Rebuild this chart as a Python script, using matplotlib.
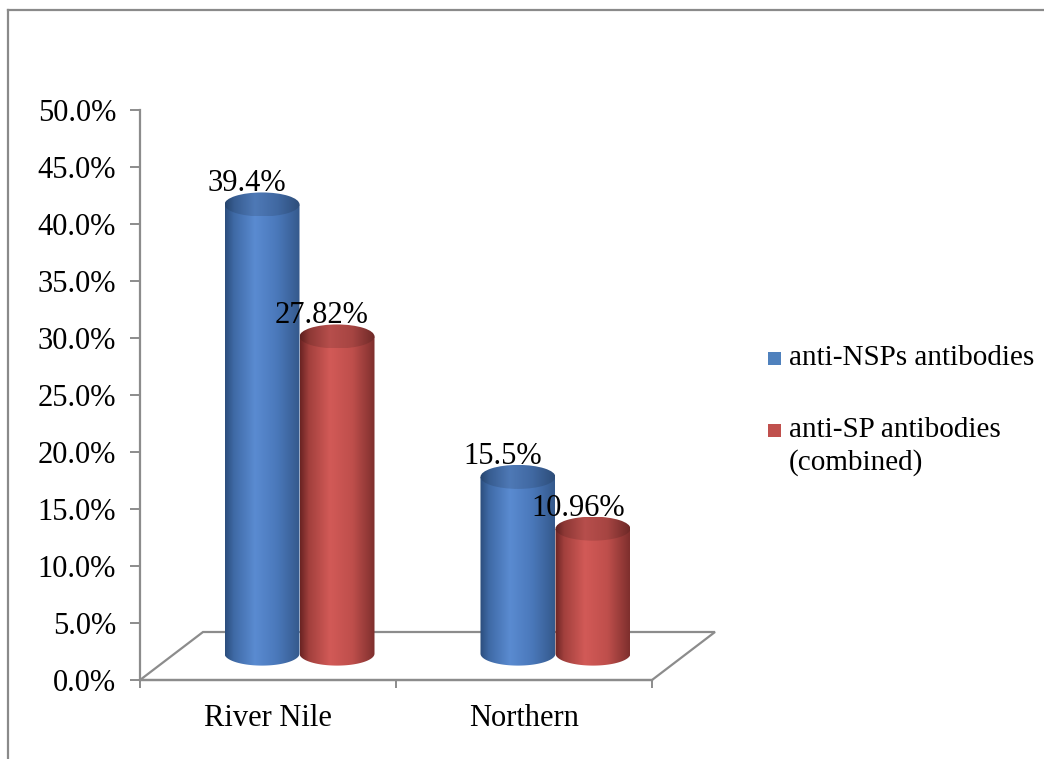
import numpy as np
import matplotlib
matplotlib.use("Agg")
import matplotlib.pyplot as plt
from matplotlib.patches import Ellipse, Polygon, Rectangle, PathPatch
from matplotlib.path import Path
from matplotlib.colors import LinearSegmentedColormap
from matplotlib.lines import Line2D

# ---- data ----
categories = ["River Nile", "Northern"]
series_names = ["anti-NSPs antibodies", "anti-SP antibodies\n(combined)"]
nsp_values = [39.4, 15.5]
sp_values = [27.82, 10.96]
nsp_labels = ["39.4%", "15.5%"]
sp_labels = ["27.82%", "10.96%"]
y_ticks = [0, 5, 10, 15, 20, 25, 30, 35, 40, 45, 50]

plt.rcParams['font.family'] = ['Liberation Serif', 'DejaVu Serif']
FS = 22
LEG_FS = 21
GRAY = '#8c8c8c'

W_PX, H_PX = 1044, 759
fig = plt.figure(figsize=(W_PX / 100, H_PX / 100), dpi=100)
fig.patch.set_facecolor('white')

# axes placement (pixels)
L, R, B, T = 140, 652, 680, 110
ax = fig.add_axes([L / W_PX, (H_PX - B) / H_PX, (R - L) / W_PX, (B - T) / H_PX])
ax.set_facecolor('none')

px_x = (R - L) / 2.0      # pixels per x-unit
px_y = (B - T) / 50.0     # pixels per percent

DX = 63 / px_x            # depth offset in x units
DY = 48 / px_y            # depth offset in y units
BW = 75 / px_x            # bar width
EB = 12 / px_y            # ellipse semi-minor in y units
DEPTH_X = 0.5             # bar depth position within floor (x shear)
DEPTH_Y = 0.55            # bar depth position within floor (y shear)

# floor
floor = Polygon([(0, 0), (2, 0), (2 + DX, DY), (DX, DY)], closed=True,
                facecolor='white', edgecolor=GRAY, lw=1.6, clip_on=False, zorder=1)
ax.add_patch(floor)

blue_stops = [(0.0, '#2b4d7c'), (0.12, '#3f6aa6'), (0.4, '#5a8bd1'),
              (0.7, '#4a78ba'), (1.0, '#34598c')]
red_stops = [(0.0, '#6a2322'), (0.12, '#a2403d'), (0.4, '#d25a57'),
             (0.7, '#bf4f4c'), (1.0, '#7e2f2d')]


def make_cmap(stops, scale=1.0):
    cols = []
    for p, c in stops:
        rgb = np.array(matplotlib.colors.to_rgb(c)) * scale
        cols.append((p, tuple(np.clip(rgb, 0, 1))))
    return LinearSegmentedColormap.from_list('g', cols)


grad = np.linspace(0, 1, 256).reshape(1, -1)


def cylinder(x0, value, stops, z):
    x1 = x0 + BW
    xc = (x0 + x1) / 2
    base = DEPTH_Y * DY
    top = base + value
    a = BW / 2
    t = np.linspace(np.pi, 2 * np.pi, 60)
    ell_lower = np.column_stack([xc + a * np.cos(t), base + EB * np.sin(t)])
    verts = [(x0, top)] + [tuple(p) for p in ell_lower] + [(x1, top), (x0, top)]
    body_path = Path(verts)
    body_patch = PathPatch(body_path, facecolor='none', edgecolor='none')
    ax.add_patch(body_patch)
    im = ax.imshow(grad, cmap=make_cmap(stops), extent=[x0, x1, base - EB, top],
                   aspect='auto', zorder=z, interpolation='bilinear')
    im.set_clip_path(body_patch)
    # top ellipse
    top_e = Ellipse((xc, top), BW, 2 * EB, facecolor='none', edgecolor='none')
    ax.add_patch(top_e)
    im2 = ax.imshow(grad, cmap=make_cmap(stops, 0.87),
                    extent=[x0, x1, top - EB, top + EB],
                    aspect='auto', zorder=z + 0.1, interpolation='bilinear')
    im2.set_clip_path(top_e)
    return xc, top


label_dx = -15 / px_x
for i in range(len(categories)):
    front_left = i + 0.5 - BW
    xs = front_left + DEPTH_X * DX
    xc, top = cylinder(xs, nsp_values[i], blue_stops, 2 + i)
    ax.text(xc + label_dx, top + EB + 1 / px_y, nsp_labels[i], ha='center',
            va='baseline', fontsize=FS, zorder=10)
    xc, top = cylinder(xs + BW, sp_values[i], red_stops, 2.5 + i)
    ax.text(xc + label_dx, top + EB + 1 / px_y, sp_labels[i], ha='center',
            va='baseline', fontsize=FS, zorder=10)

ax.set_xlim(0, 2)
ax.set_ylim(0, 50)

for s in ['top', 'right']:
    ax.spines[s].set_visible(False)
for s in ['left', 'bottom']:
    ax.spines[s].set_color(GRAY)
    ax.spines[s].set_linewidth(1.6)

ax.set_yticks(y_ticks)
ax.set_yticklabels([f"{v:.1f}%" for v in y_ticks], fontsize=FS)
ax.tick_params(axis='y', length=7.2, width=1.4, color=GRAY, pad=10)
ax.set_xticks([0, 1, 2])
ax.set_xticklabels(['', '', ''])
ax.tick_params(axis='x', which='major', length=6, width=1.4, color=GRAY)
ax.set_xticks([0.5, 1.5], minor=True)
ax.set_xticklabels(categories, minor=True, fontsize=FS)
ax.tick_params(axis='x', which='minor', length=0, pad=17)

# legend (manual, figure pixels)
def fx(px):
    return px / W_PX


def fy(py):
    return 1 - py / H_PX


leg_colors = ['#4f81bd', '#c0504d']
leg_y = [358, 430]
for c, yy, name in zip(leg_colors, leg_y, series_names):
    fig.patches.append(Rectangle((fx(768), fy(yy + 7)), 13 / W_PX, 13 / H_PX,
                                 transform=fig.transFigure, facecolor=c,
                                 edgecolor='none'))
    lines = name.split('\n')
    for k, ln in enumerate(lines):
        fig.text(fx(789), fy(yy + k * 33), ln, ha='left', va='center', fontsize=LEG_FS)

# outer frame lines
fig.add_artist(Line2D([fx(8), fx(1044)], [fy(10), fy(10)], transform=fig.transFigure,
                      color='#8a8a8a', lw=1.6))
fig.add_artist(Line2D([fx(8), fx(8)], [fy(10), fy(759)], transform=fig.transFigure,
                      color='#8a8a8a', lw=1.6))

fig.savefig('out.png', dpi=100, facecolor='white')
